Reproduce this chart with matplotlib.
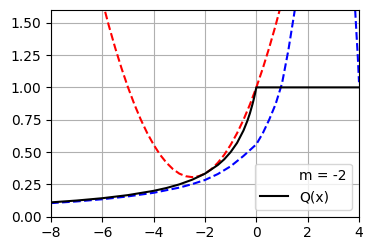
import numpy as np
from matplotlib import pyplot as plt

# black curve Q(x)
q_x = [-8, -7, -6, -5, -4, -3.5, -3, -2.5, -2, -1.5, -1.25, -1, -0.75, -0.5,
       -0.35, -0.25, -0.15, -0.1, -0.05, 0, 4]
q_y = [0.111, 0.125, 0.143, 0.167, 0.2, 0.222, 0.25, 0.286, 0.333, 0.4, 0.444,
       0.5, 0.571, 0.667, 0.741, 0.8, 0.870, 0.909, 0.952, 1.0, 1.0]

# red dashed (upper)
red_x = [-6, -5.75, -5.5, -5.25, -5, -4.75, -4.5, -4.25, -4, -3.75, -3.5,
         -3.25, -3, -2.75, -2.5, -2.25, -2, -1.75, -1.5, -1.25, -1, -0.75,
         -0.5, -0.25, 0, 0.25, 0.5, 0.75, 1.0]
red_y = [1.667, 1.479, 1.306, 1.146, 1.0, 0.868, 0.75, 0.646, 0.556, 0.479,
         0.417, 0.368, 0.333, 0.313, 0.306, 0.313, 0.333, 0.368, 0.417, 0.479,
         0.556, 0.646, 0.75, 0.868, 1.0, 1.146, 1.306, 1.479, 1.667]

# blue dashed (lower), two branches
blue_x = [-8, -7, -6, -5, -4, -3, -2.5, -2, -1.5, -1, -0.5, 0, 0.25, 0.5,
          0.75, 1.0, 1.25, 1.5, 1.6]
blue_y = [0.105, 0.118, 0.135, 0.157, 0.185, 0.225, 0.252, 0.284, 0.33, 0.39,
          0.47, 0.56, 0.645, 0.75, 0.87, 1.03, 1.29, 1.6, 1.76]
blue2_x = [3.8, 3.85, 3.9, 3.95, 4.0]
blue2_y = [1.85, 1.6, 1.42, 1.25, 1.04]

m = -2


def main():
    fig = plt.figure(figsize=(3.74, 2.5), dpi=100)
    ax = fig.add_axes([0.1364, 0.1332, 0.8235, 0.8276])
    ax.plot(red_x, red_y, 'r--', lw=1.5)
    ax.plot(blue_x, blue_y, 'b--', lw=1.5)
    ax.plot(blue2_x, blue2_y, 'b--', lw=1.5)
    ax.plot([], [], ' ', label=f'm = {m}')
    ax.plot(q_x, q_y, 'k-', lw=1.5, label='Q(x)')
    ax.set_xlim(-8, 4)
    ax.set_ylim(0, 1.6)
    ax.grid(True)
    ax.legend(loc='lower right')
    fig.savefig('out.png')


if __name__ == '__main__':
    main()
